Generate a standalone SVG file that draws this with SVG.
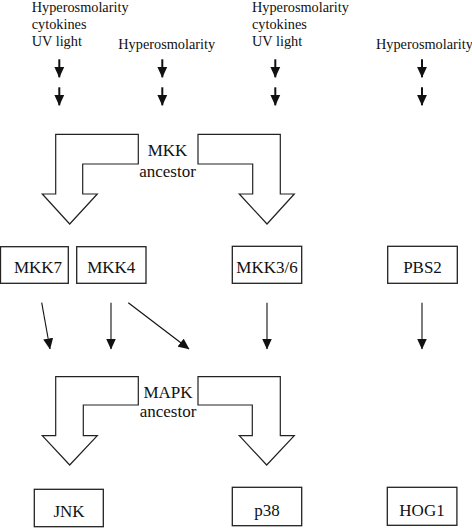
<svg xmlns="http://www.w3.org/2000/svg" width="472" height="528" viewBox="0 0 472 528">
<defs>
<style>
text{font-family:'Liberation Serif','Times New Roman','DejaVu Serif',serif;fill:#111}
.s{font-size:14.3px}
.l{font-size:17px}
.box{fill:#fff;stroke:#222;stroke-width:1.3}
.big{fill:#fff;stroke:#222;stroke-width:1.2;stroke-linejoin:miter}
.a1{stroke:#111;stroke-width:2;fill:none}
.a2{stroke:#111;stroke-width:1.1;fill:none}
</style>
<marker id="h1" markerUnits="userSpaceOnUse" markerWidth="11" markerHeight="11" viewBox="0 0 11 11" refX="10.5" refY="5.5" orient="auto">
<path d="M0,0.5 L11,5.5 L0,10.5 z" fill="#111"/>
</marker>
</defs>
<g id="stimuli">
<text class="s" x="31.7" y="11.5">Hyperosmolarity</text>
<text class="s" x="31.7" y="28.8">cytokines</text>
<text class="s" x="31.7" y="46">UV light</text>
<text class="s" x="118.3" y="49.3">Hyperosmolarity</text>
<text class="s" x="252" y="12">Hyperosmolarity</text>
<text class="s" x="252" y="29.3">cytokines</text>
<text class="s" x="252" y="46">UV light</text>
<text class="s" x="376" y="49.3">Hyperosmolarity</text>
</g>
<g id="mkk-ancestor">
<polygon class="big" points="138.3,134.3 55.7,134.3 55.7,194 42.3,194 69.7,224 97.3,194 82.7,194 82.7,164 138.3,164"/>
<polygon class="big" points="198,134.3 280.3,134.3 280.3,194 294.3,194 267,224 239.3,194 252.7,194 252.7,164 198,164"/>
<text class="l" x="167.5" y="156" text-anchor="middle">MKK</text>
<text class="l" x="167.5" y="177" text-anchor="middle">ancestor</text>
</g>
<g id="mapk-ancestor">
<polygon class="big" points="138.3,376.7 55.7,376.7 55.7,435.7 42.3,435.7 69.7,465 97.3,435.7 83.3,435.7 83.3,405 138.3,405"/>
<polygon class="big" points="198,376.7 280.3,376.7 280.3,435.7 294.3,435.7 266.7,465 239.3,435.7 252.3,435.7 252.3,405 198,405"/>
<text class="l" x="168" y="397.5" text-anchor="middle">MAPK</text>
<text class="l" x="168" y="417" text-anchor="middle">ancestor</text>
</g>
<g id="mkk7"><rect class="box" x="0.5" y="246.7" width="67.8" height="36.6"/><text class="l" x="38" y="272.5" text-anchor="middle">MKK7</text></g>
<g id="mkk4"><rect class="box" x="76.7" y="246.7" width="69.3" height="36.6"/><text class="l" x="111.3" y="272.5" text-anchor="middle">MKK4</text></g>
<g id="mkk36"><rect class="box" x="232.3" y="246.3" width="69.4" height="37"/><text class="l" x="267" y="272.5" text-anchor="middle">MKK3/6</text></g>
<g id="pbs2"><rect class="box" x="387.7" y="246.3" width="69.6" height="37"/><text class="l" x="422.5" y="272.5" text-anchor="middle">PBS2</text></g>
<g id="jnk"><rect class="box" x="34.3" y="489.3" width="69" height="37.4"/><text class="l" x="69" y="516.5" text-anchor="middle">JNK</text></g>
<g id="p38"><rect class="box" x="232.3" y="487.3" width="69.4" height="38.4"/><text class="l" x="267" y="516" text-anchor="middle">p38</text></g>
<g id="hog1"><rect class="box" x="387.3" y="487.3" width="69.6" height="38"/><text class="l" x="422" y="516" text-anchor="middle">HOG1</text></g>
<g id="connectors">
<line class="a1" x1="59.3" y1="59.3" x2="59.3" y2="77.3" marker-end="url(#h1)"/>
<line class="a1" x1="59.3" y1="87.3" x2="59.3" y2="105.3" marker-end="url(#h1)"/>
<line class="a1" x1="162.3" y1="59.3" x2="162.3" y2="77.3" marker-end="url(#h1)"/>
<line class="a1" x1="162.3" y1="87.3" x2="162.3" y2="105.3" marker-end="url(#h1)"/>
<line class="a1" x1="275.3" y1="59.3" x2="275.3" y2="77.3" marker-end="url(#h1)"/>
<line class="a1" x1="275.3" y1="87.3" x2="275.3" y2="105.3" marker-end="url(#h1)"/>
<line class="a1" x1="422" y1="59.3" x2="422" y2="77.3" marker-end="url(#h1)"/>
<line class="a1" x1="422" y1="87.3" x2="422" y2="105.3" marker-end="url(#h1)"/>
<line class="a2" x1="41.7" y1="302.7" x2="50" y2="349" marker-end="url(#h1)"/>
<line class="a2" x1="111" y1="302.7" x2="111" y2="349" marker-end="url(#h1)"/>
<line class="a2" x1="128.3" y1="302.7" x2="189" y2="349" marker-end="url(#h1)"/>
<line class="a2" x1="267" y1="302.7" x2="267" y2="349" marker-end="url(#h1)"/>
<line class="a2" x1="422" y1="302.7" x2="422" y2="349" marker-end="url(#h1)"/>
</g>
</svg>
